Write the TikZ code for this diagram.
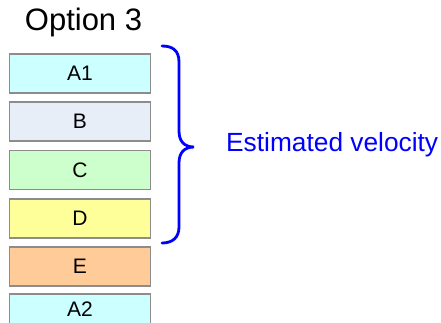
\documentclass[tikz,border=0pt]{standalone}
\usepackage{fontspec}
\setmainfont{Liberation Sans}
\begin{document}
\begin{tikzpicture}[x=1pt,y=1pt,
  layer/.style={draw=black!45,line width=1.1pt,minimum width=140.5pt,minimum height=39pt,inner sep=0pt,font=\fontsize{21}{25}\selectfont,text=black},
  bracestyle/.style={draw=blue,line width=2.8pt,line cap=round}]
\useasboundingbox (0,-322) rectangle (441,0);
\clip (0,-322) rectangle (441,0);
\node[anchor=base,font=\fontsize{31}{36}\selectfont] (title) at (83.5,-30.5) {Option 3};
\node[layer,fill={rgb,255:red,204;green,255;blue,255}] (a1) at (80,-73.5) {A1};
\node[layer,fill={rgb,255:red,232;green,238;blue,247}] (b) at (80,-121.5) {B};
\node[layer,fill={rgb,255:red,204;green,255;blue,204}] (c) at (80,-170) {C};
\node[layer,fill={rgb,255:red,255;green,255;blue,153}] (d) at (80,-218.5) {D};
\node[layer,fill={rgb,255:red,255;green,204;blue,153}] (e) at (80,-266.5) {E};
\node[layer,minimum height=30pt,fill={rgb,255:red,204;green,255;blue,255}] (a2) at (80,-309) {A2};
\coordinate (bt) at (162,-46);
\coordinate (bm) at (194,-147);
\coordinate (bb) at (162,-243);
\draw[bracestyle] (bt) .. controls (172,-46) and (179,-50) .. (179,-62) -- (179,-131)
  .. controls (179,-141) and (184,-147) .. (bm)
  .. controls (184,-147) and (179,-153) .. (179,-163) -- (179,-227)
  .. controls (179,-238) and (172,-243) .. (bb);
\node[anchor=base west,text=blue,font=\fontsize{26.3}{31}\selectfont,inner sep=0pt] (ev) at (226,-151) {Estimated velocity};
\end{tikzpicture}
\end{document}
